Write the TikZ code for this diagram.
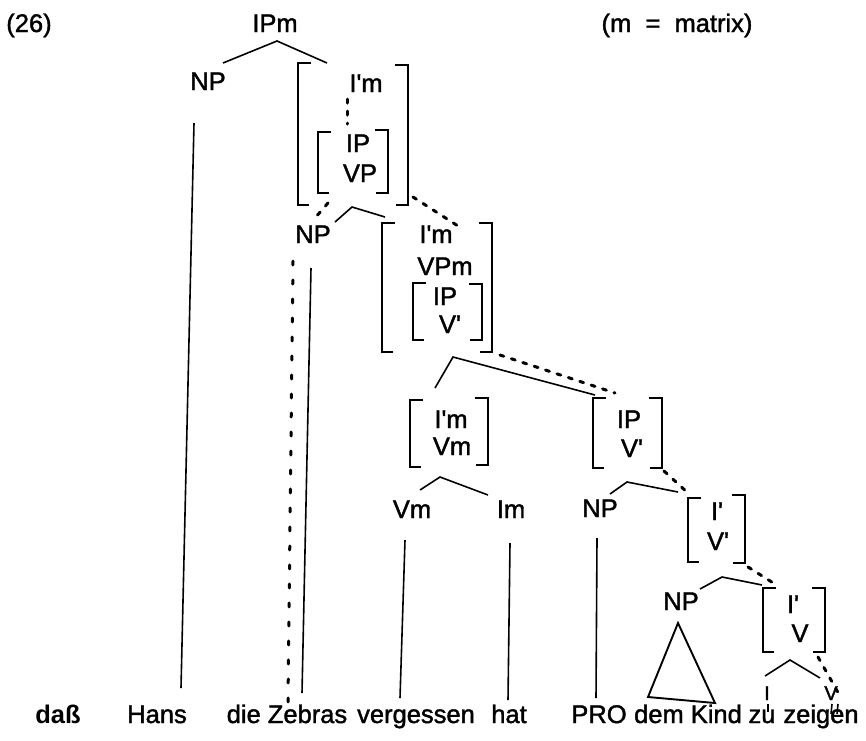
\documentclass[tikz,border=0pt]{standalone}
\usepackage{fontspec}
\setmainfont{Liberation Sans}
\newfontfamily\lf{Liberation Sans}[FakeBold=1.5]
\newfontfamily\lfb{Liberation Sans Bold}
\begin{document}
\begin{tikzpicture}[x=1pt,y=-1pt]
\tikzset{
 lab/.style={font=\lf\fontsize{25.5}{28}\selectfont, inner sep=0pt, anchor=base},
 smalllab/.style={font=\lf\fontsize{20}{22}\selectfont, inner sep=0pt, anchor=base},
 edge/.style={line width=1.6pt},
 brk/.style={line width=1.8pt},
 dsh/.style={line width=3pt, dash pattern=on 4pt off 8pt, line cap=round},
 dotv/.style={line width=3pt, dash pattern=on 4pt off 15pt, line cap=round},
}
\newcommand{\LBrk}[3]{\draw[brk] (#1+13,#2) -- (#1,#2) -- (#1,#3) -- (#1+11,#3);}
\newcommand{\RBrk}[3]{\draw[brk] (#1-13,#2) -- (#1,#2) -- (#1,#3) -- (#1-12,#3);}
\fill[white] (0,0) rectangle (866,740);
\useasboundingbox (0,0) rectangle (866,740);

% ---------- labels ----------
\node[lab] (n26) at (29,32) {(26)};
\node[lab] (ipm) at (275,32) {IPm};
\node[lab] (matrix) at (677,32) {(m\ \ =\ \ matrix)};
\node[lab] (np1) at (208,90) {NP};
\node[lab] (im1) at (366,92) {I'm};
\node[lab] (ip1) at (358,152) {IP};
\node[lab] (vp1) at (360,182) {VP};
\node[lab] (np2) at (313,243) {NP};
\node[lab] (im2) at (436,243) {I'm};
\node[lab] (vpm2) at (445,275) {VPm};
\node[lab] (ip2) at (445,305) {IP};
\node[lab] (vb2) at (450,333) {V'};
\node[lab] (im3) at (451,428) {I'm};
\node[lab] (vm3) at (452,455) {Vm};
\node[lab] (ip4) at (629,428) {IP};
\node[lab] (vb4) at (632,457) {V'};
\node[lab] (vm) at (412,518) {Vm};
\node[lab] (imm) at (511,518) {Im};
\node[lab] (np3) at (600,517) {NP};
\node[lab] (ib5) at (717,520) {I'};
\node[lab] (vb5) at (718,550) {V'};
\node[lab] (np5) at (681,610) {NP};
\node[lab] (ib6) at (793,613) {I'};
\node[lab] (v6) at (800,642) {V};
\node[smalllab] (ii) at (767,700) {I};
\node[smalllab] (vv) at (831,700) {V};

% bottom words
\node[lab,font=\lfb\fontsize{25.5}{28}\selectfont] (dass) at (58,723) {daß};
\node[lab] (hans) at (157,723) {Hans};
\node[lab] (zebras) at (287,723) {die Zebras};
\node[lab] (verg) at (416,723) {vergessen};
\node[lab] (hat) at (509,723) {hat};
\node[lab] (pro) at (599,723) {PRO};
\node[lab] (kind) at (688,723) {dem Kind};
\node[lab] (zu) at (762,723) {zu};
\node[lab] (zeigen) at (821,723) {zeigen};

% ---------- brackets ----------
\LBrk{298}{63}{205} \RBrk{408}{65}{205}
\LBrk{318}{132}{193} \RBrk{388}{130}{193}
\LBrk{382}{223}{352} \RBrk{492}{223}{352}
\LBrk{413}{283}{340} \RBrk{482}{284}{340}
\LBrk{410}{400}{467} \RBrk{488}{398}{465}
\LBrk{593}{398}{468} \RBrk{662}{398}{468}
\LBrk{688}{498}{562} \RBrk{745}{495}{563}
\LBrk{763}{588}{652} \RBrk{825}{588}{652}

% ---------- coordinates ----------
\coordinate (a1) at (277,41);
\coordinate (a1l) at (223,63);
\coordinate (a1r) at (327,63);
\coordinate (d1t) at (347,99);
\coordinate (d1b) at (347,124);
\coordinate (a2) at (352,207);
\coordinate (a2l) at (335,222);
\coordinate (a2r) at (385,217);
\coordinate (d2s) at (328,203);
\coordinate (d2e) at (315,218);
\coordinate (d3s) at (413,197);
\coordinate (d3e) at (458,226);
\coordinate (v1t) at (194,123);
\coordinate (v1b) at (181,688);
\coordinate (v2t) at (293,261);
\coordinate (v2b) at (288,702);
\coordinate (v3t) at (311,268);
\coordinate (v3b) at (302,693);
\coordinate (a3) at (453,357);
\coordinate (a3l) at (435,388);
\coordinate (a3r) at (595,395);
\coordinate (d4s) at (500,355);
\coordinate (d4e) at (615,393);
\coordinate (a4) at (440,477);
\coordinate (a4l) at (420,490);
\coordinate (a4r) at (488,495);
\coordinate (v4t) at (405,540);
\coordinate (v4b) at (400,698);
\coordinate (v5t) at (510,543);
\coordinate (v5b) at (508,700);
\coordinate (a5) at (627,482);
\coordinate (a5l) at (610,494);
\coordinate (a5r) at (678,492);
\coordinate (d5s) at (664,471);
\coordinate (d5e) at (688,493);
\coordinate (v6t) at (597,538);
\coordinate (v6b) at (596,698);
\coordinate (a6) at (722,577);
\coordinate (a6l) at (700,589);
\coordinate (a6r) at (762,585);
\coordinate (d6s) at (748,567);
\coordinate (d6e) at (778,586);
\coordinate (t1) at (678,623);
\coordinate (t2) at (648,697);
\coordinate (t3) at (715,703);
\coordinate (a7) at (790,660);
\coordinate (a7l) at (765,676);
\coordinate (a7r) at (820,678);
\coordinate (d7s) at (818,657);
\coordinate (d7e) at (840,696);
\coordinate (k1t) at (768,704);
\coordinate (k1b) at (768,712);
\coordinate (k2t) at (832,704);
\coordinate (k2b) at (831,714);
\coordinate (k3t) at (838,704);
\coordinate (k3b) at (837,714);

% ---------- connectors ----------
\draw[edge] (a1l) -- (a1) -- (a1r);
\draw[dsh] (d1t) -- (d1b);
\draw[edge] (a2l) -- (a2) -- (a2r);
\draw[dsh] (d2s) -- (d2e);
\draw[dsh] (d3s) -- (d3e);
\draw[edge] (v1t) -- (v1b);
\draw[dotv] (v2t) -- (v2b);
\draw[edge] (v3t) -- (v3b);
\draw[edge] (a3l) -- (a3) -- (a3r);
\draw[dsh] (d4s) -- (d4e);
\draw[edge] (a4l) -- (a4) -- (a4r);
\draw[edge] (v4t) -- (v4b);
\draw[edge] (v5t) -- (v5b);
\draw[edge] (a5l) -- (a5) -- (a5r);
\draw[dsh] (d5s) -- (d5e);
\draw[edge] (v6t) -- (v6b);
\draw[edge] (a6l) -- (a6) -- (a6r);
\draw[dsh] (d6s) -- (d6e);
\draw[edge,line width=1.9pt] (t1) -- (t2) -- (t3) -- cycle;
\draw[edge] (a7l) -- (a7) -- (a7r);
\draw[dsh] (d7s) -- (d7e);
\draw[edge] (k1t) -- (k1b);
\draw[edge] (k2t) -- (k2b);
\draw[edge] (k3t) -- (k3b);
\end{tikzpicture}
\end{document}
